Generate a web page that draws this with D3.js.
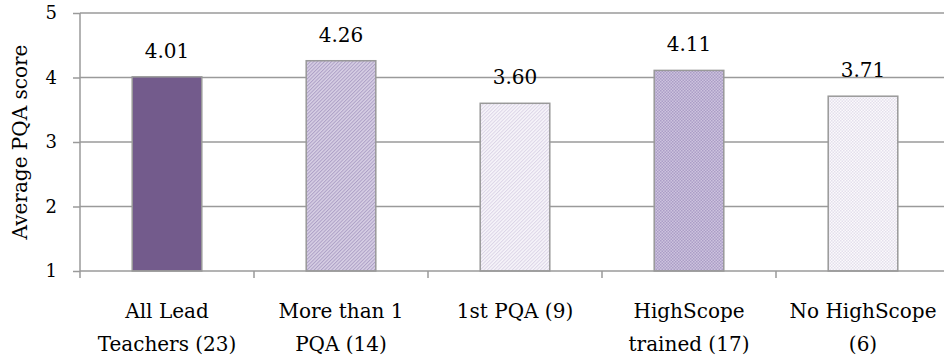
<!DOCTYPE html>
<html>
<head>
<meta charset="utf-8">
<script src="https://cdn.jsdelivr.net/npm/d3@7/dist/d3.min.js"></script>
<style>
  html, body { margin: 0; padding: 0; background: #fff; }
  #chart { width: 944px; height: 358px; }
  text { font-family: "DejaVu Serif", "Liberation Serif", serif; fill: #000; }
</style>
</head>
<body>
<div id="chart"></div>
<script>
// bar chart: average PQA score by teacher group
const categories = [
  ['All Lead', 'Teachers (23)'],
  ['More than 1', 'PQA (14)'],
  ['1st PQA (9)'],
  ['HighScope', 'trained (17)'],
  ['No HighScope', '(6)']
];
const scores = [4.01, 4.26, 3.60, 4.11, 3.71];
const yTicks = [1, 2, 3, 4, 5];
const fills = ['#735b8c', 'url(#hatchMid)', 'url(#hatchLight)', 'url(#dotMid)', 'url(#dotLight)'];

(function(){
  const width = 944, height = 358;
  const margin = { top: 13, right: 0, bottom: 87, left: 80 };
  const keys = categories.map((c, i) => i);

  const svg = d3.select('#chart').append('svg')
    .attr('width', width).attr('height', height);

  // fill patterns
  const defs = svg.append('defs');
  const hatch = (id, bg, fg) => {
    const p = defs.append('pattern').attr('id', id)
      .attr('patternUnits', 'userSpaceOnUse').attr('width', 2.5).attr('height', 2.5)
      .attr('patternTransform', 'rotate(45)');
    p.append('rect').attr('width', 2.5).attr('height', 2.5).attr('fill', bg);
    p.append('rect').attr('width', 1).attr('height', 2.5).attr('fill', fg);
  };
  const dots = (id, bg, fg) => {
    const p = defs.append('pattern').attr('id', id)
      .attr('patternUnits', 'userSpaceOnUse').attr('width', 3).attr('height', 3);
    p.append('rect').attr('width', 3).attr('height', 3).attr('fill', bg);
    p.append('rect').attr('width', 1.5).attr('height', 1.5).attr('fill', fg);
    p.append('rect').attr('x', 1.5).attr('y', 1.5).attr('width', 1.5).attr('height', 1.5).attr('fill', fg);
  };
  hatch('hatchMid', '#d8d0e5', '#ada0c6');
  hatch('hatchLight', '#f7f5fa', '#dcd5e7');
  dots('dotMid', '#cdc3de', '#ab9dc6');
  dots('dotLight', '#fbfafc', '#e4dfec');

  const x = d3.scaleBand()
    .domain(keys)
    .range([margin.left, margin.left + 174 * 5])
    .paddingInner(0.6).paddingOuter(0.3);
  const y = d3.scaleLinear()
    .domain([1, 5])
    .range([height - margin.bottom, margin.top]);

  // gridlines
  svg.append('g')
    .selectAll('line')
    .data(yTicks.slice(1))
    .enter().append('line')
    .attr('x1', margin.left).attr('x2', width)
    .attr('y1', d => y(d)).attr('y2', d => y(d))
    .attr('stroke', '#9a9a9a').attr('stroke-width', 1.5);

  // bars
  svg.append('g')
    .selectAll('rect')
    .data(scores)
    .enter().append('rect')
    .attr('x', (d, i) => x(i))
    .attr('y', d => y(d))
    .attr('width', x.bandwidth())
    .attr('height', d => y(1) - y(d))
    .attr('fill', (d, i) => fills[i])
    .attr('stroke', '#999')
    .attr('stroke-width', 1.5);

  // value labels
  svg.append('g')
    .selectAll('text')
    .data(scores)
    .enter().append('text')
    .attr('x', (d, i) => x(i) + x.bandwidth() / 2)
    .attr('y', d => y(d) - 19)
    .attr('text-anchor', 'middle')
    .style('font-size', '20px')
    .text(d => d.toFixed(2));

  // y axis
  const yAxis = svg.append('g')
    .attr('transform', `translate(${margin.left},0)`)
    .call(d3.axisLeft(y).tickValues(yTicks).tickFormat(d3.format('d')).tickSize(7).tickPadding(16));
  yAxis.selectAll('line, path').attr('stroke', '#9a9a9a').attr('stroke-width', 1.5);
  yAxis.select('.domain').attr('d', `M0,${y(1)}V${y(5)}`);
  yAxis.selectAll('text').style('font-size', '18px').style('font-family', '"DejaVu Serif", serif');

  // x axis
  const xAxis = svg.append('g')
    .attr('transform', `translate(0,${y(1)})`);
  xAxis.append('line')
    .attr('x1', margin.left).attr('x2', width)
    .attr('stroke', '#9a9a9a').attr('stroke-width', 1.5);
  xAxis.selectAll('.tk')
    .data(d3.range(6))
    .enter().append('line')
    .attr('x1', i => margin.left + i * 174).attr('x2', i => margin.left + i * 174)
    .attr('y1', 0).attr('y2', 7)
    .attr('stroke', '#9a9a9a').attr('stroke-width', 1.5);

  const lbl = svg.append('g')
    .selectAll('text')
    .data(categories)
    .enter().append('text')
    .attr('text-anchor', 'middle')
    .attr('transform', (d, i) => `translate(${x(i) + x.bandwidth() / 2},${y(1) + 47})`)
    .style('font-size', '20px');
  lbl.selectAll('tspan')
    .data(d => d)
    .enter().append('tspan')
    .attr('x', 0)
    .attr('dy', (d, i) => i === 0 ? 0 : 33)
    .text(d => d);

  // y axis title
  svg.append('text')
    .attr('transform', `translate(27,142) rotate(-90)`)
    .attr('text-anchor', 'middle')
    .style('font-size', '20px')
    .text('Average PQA score');
})();
</script>
</body>
</html>
